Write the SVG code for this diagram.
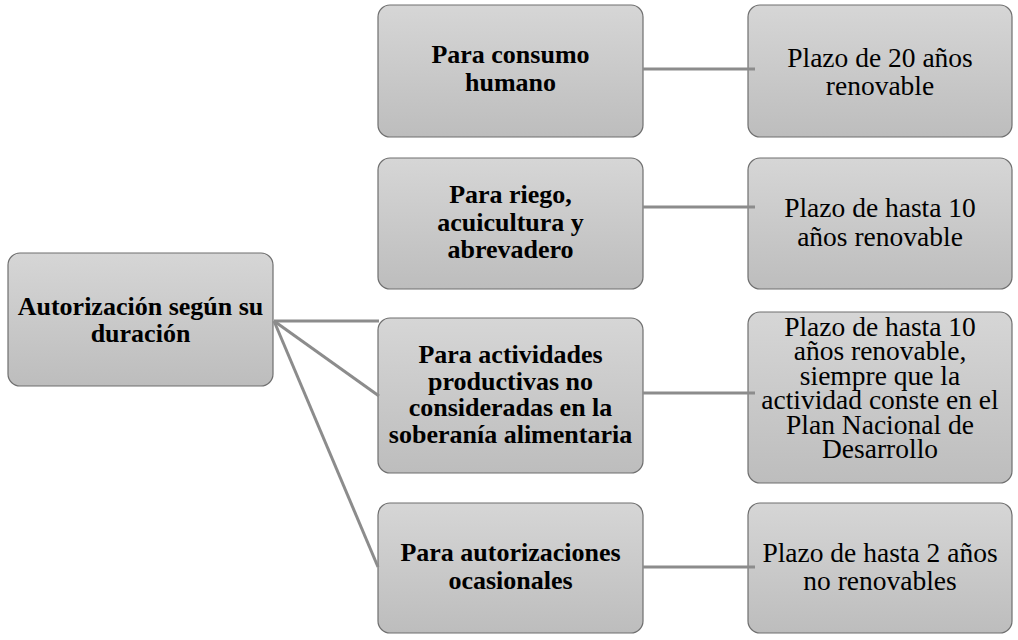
<svg xmlns="http://www.w3.org/2000/svg" width="1018" height="640" viewBox="0 0 1018 640">
<defs>
<linearGradient id="g" x1="0" y1="0" x2="0" y2="1">
<stop offset="0" stop-color="#d6d6d6"/>
<stop offset="1" stop-color="#bdbdbd"/>
</linearGradient>
<style>
.box{fill:url(#g);stroke:#6f6f6f;stroke-width:1.2}
.b{font-family:"Liberation Serif","Times New Roman",serif;font-weight:bold;font-size:26px;fill:#000;text-anchor:middle}
.r{font-family:"Liberation Serif","Times New Roman",serif;font-size:27.5px;fill:#000;text-anchor:middle}
.c{stroke:#8c8c8c;stroke-width:3;fill:none}
</style>
</defs>
<rect width="1018" height="640" fill="#fff"/>
<g id="root">
<rect class="box" x="8" y="253" width="265" height="133" rx="12"/>
<text class="b" font-size="27"><tspan x="140.5" y="315">Autorización según su</tspan><tspan x="140.5" y="342">duración</tspan></text>
</g>
<g id="m1">
<rect class="box" x="378" y="5" width="265" height="132" rx="12"/>
<text class="b"><tspan x="510.5" y="63">Para consumo</tspan><tspan x="510.5" y="91">humano</tspan></text>
</g>
<g id="m2">
<rect class="box" x="378" y="158" width="265" height="131" rx="12"/>
<text class="b"><tspan x="510.5" y="203">Para riego,</tspan><tspan x="510.5" y="231">acuicultura y</tspan><tspan x="510.5" y="258">abrevadero</tspan></text>
</g>
<g id="m3">
<rect class="box" x="378" y="318" width="265" height="155" rx="12"/>
<text class="b"><tspan x="510.5" y="363">Para actividades</tspan><tspan x="510.5" y="390">productivas no</tspan><tspan x="510.5" y="416">consideradas en la</tspan><tspan x="510.5" y="443">soberanía alimentaria</tspan></text>
</g>
<g id="m4">
<rect class="box" x="378" y="503" width="265" height="130" rx="12"/>
<text class="b"><tspan x="510.5" y="561">Para autorizaciones</tspan><tspan x="510.5" y="589">ocasionales</tspan></text>
</g>
<g id="r1">
<rect class="box" x="748" y="5" width="264" height="132" rx="12"/>
<text class="r"><tspan x="880" y="67">Plazo de 20 años</tspan><tspan x="880" y="95">renovable</tspan></text>
</g>
<g id="r2">
<rect class="box" x="748" y="158" width="264" height="131" rx="12"/>
<text class="r"><tspan x="880" y="217">Plazo de hasta 10</tspan><tspan x="880" y="246">años renovable</tspan></text>
</g>
<g id="r3">
<rect class="box" x="748" y="312" width="264" height="171" rx="12"/>
<text class="r" font-size="25.5"><tspan x="880" y="336">Plazo de hasta 10</tspan><tspan x="880" y="360">años renovable,</tspan><tspan x="880" y="385">siempre que la</tspan><tspan x="880" y="409">actividad conste en el</tspan><tspan x="880" y="434">Plan Nacional de</tspan><tspan x="880" y="458">Desarrollo</tspan></text>
</g>
<g id="r4">
<rect class="box" x="748" y="503" width="264" height="130" rx="12"/>
<text class="r"><tspan x="880" y="562">Plazo de hasta 2 años</tspan><tspan x="880" y="590">no renovables</tspan></text>
</g>
<g id="connectors">
<line class="c" x1="274" y1="321" x2="379" y2="321"/>
<line class="c" x1="274" y1="321" x2="379" y2="396"/>
<line class="c" x1="274" y1="321" x2="378" y2="567"/>
<line class="c" x1="643" y1="69" x2="755" y2="69"/>
<line class="c" x1="643" y1="207" x2="755" y2="207"/>
<line class="c" x1="643" y1="393" x2="755" y2="393"/>
<line class="c" x1="643" y1="567" x2="755" y2="567"/>
</g>
</svg>
